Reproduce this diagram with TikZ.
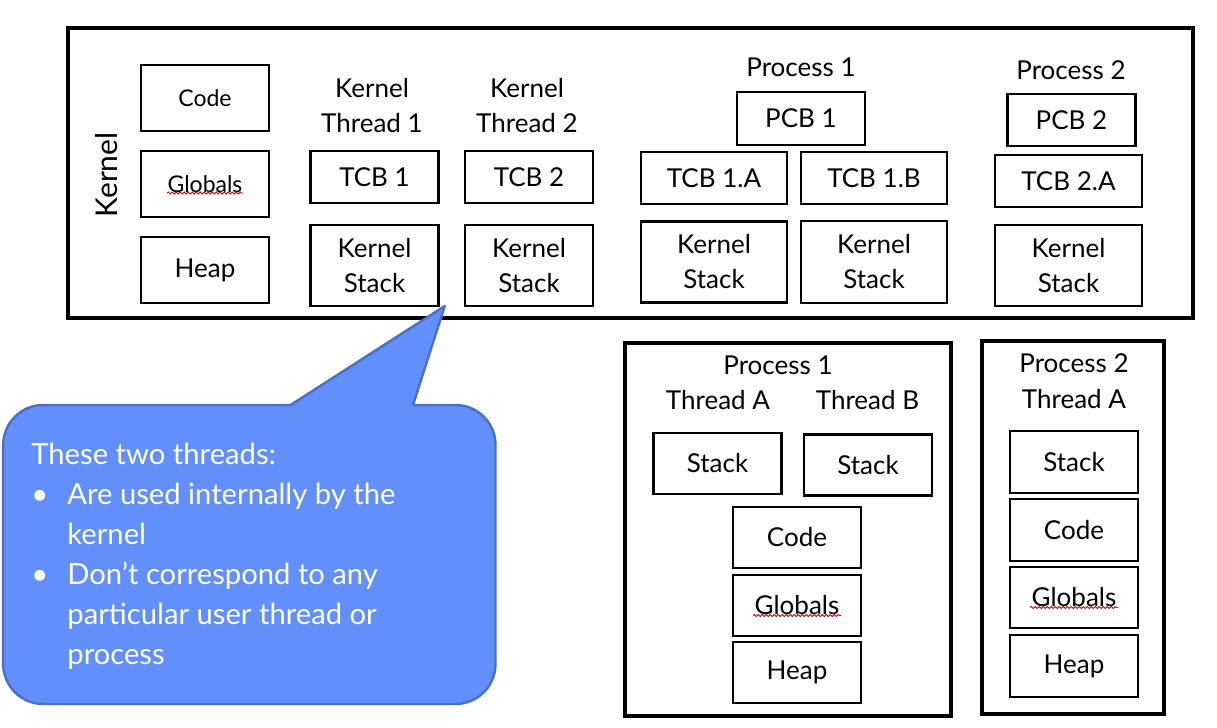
\documentclass[tikz,border=0pt]{standalone}
\usepackage{fontspec}
\setmainfont{Lato}
\usetikzlibrary{decorations.pathmorphing}
\definecolor{calloutfill}{RGB}{98,143,249}
\definecolor{calloutline}{RGB}{72,112,196}

\begin{document}
\begin{tikzpicture}[x=0.5pt,y=0.5pt]
        \useasboundingbox (0,0) rectangle (1217,728);
        \tikzset{squiggle/.style={draw=red!80!black,line width=0.4pt,decorate,
            decoration={snake,amplitude=0.5pt,segment length=2pt}}}
        % frames
        \begin{scope}[every node/.style={draw=black,line width=2pt,inner sep=0pt}]
            \node (kernel) [minimum width=562.6pt,minimum height=145.1pt] at (630.4,554.6) {};
            \node (proc1) [minimum width=163.2pt,minimum height=186.7pt] at (787.8,198.7) {};
            \node (proc2) [minimum width=91pt,minimum height=186.7pt] at (1072.8,200.7) {};
        \end{scope}
        % boxes
        \begin{scope}[every node/.style={draw=black,line width=1.4pt,inner sep=0pt,align=center,
                font=\fontsize{13}{17.5}\selectfont,minimum width=64pt}]
            \node (kcode) [minimum height=33pt,font=\fontsize{11.5}{14}\selectfont] at (205,630) {Code};
            \node (kglob) [minimum height=33pt,font=\fontsize{11.5}{14}\selectfont] at (205,544) {Globals};
            \node (kheap) [minimum height=33pt] at (205,458) {Heap};

            \node (tcb1) [minimum height=26pt] at (374.5,551) {TCB 1};
            \node (tcb2) [minimum height=26pt] at (529,551) {TCB 2};
            \node (kst1) [minimum height=40.5pt] at (374.5,462.5) {Kernel\\Stack};
            \node (kst2) [minimum height=40.5pt] at (529,462.5) {Kernel\\Stack};

            \node (pcb1) [minimum height=26.5pt] at (801,609.5) {PCB 1};
            \node (tcb1a) [minimum width=73pt,minimum height=26pt] at (714,550) {TCB 1.A};
            \node (tcb1b) [minimum width=73pt,minimum height=26pt] at (874,550) {TCB 1.B};
            \node (kst1a) [minimum width=73pt,minimum height=40.5pt] at (714,466) {Kernel\\Stack};
            \node (kst1b) [minimum width=73pt,minimum height=41pt] at (874,466) {Kernel\\Stack};

            \node (pcb2) [minimum height=26pt] at (1071.5,608) {PCB 2};
            \node (tcb2a) [minimum width=73.5pt,minimum height=26pt] at (1068.5,547) {TCB 2.A};
            \node (kst2a) [minimum width=73.5pt,minimum height=40.5pt] at (1068.5,462.5) {Kernel\\Stack};

            \node (ustka) [minimum height=30.5pt] at (717.5,264.5) {Stack};
            \node (ustkb) [minimum height=30.5pt] at (868,263) {Stack};
            \node (ucode) [minimum height=30.5pt] at (797,190.5) {Code};
            \node (uglob) [minimum height=30.5pt] at (797,122.5) {Globals};
            \node (uheap) [minimum height=30.5pt] at (797,55.5) {Heap};

            \node (vstk) [minimum height=31pt] at (1074,266) {Stack};
            \node (vcode) [minimum height=31pt] at (1074,198) {Code};
            \node (vglob) [minimum height=30.5pt] at (1074,130.5) {Globals};
            \node (vheap) [minimum height=31pt] at (1074,62) {Heap};
        \end{scope}
        % labels
        \begin{scope}[every node/.style={align=center,inner sep=0pt,font=\fontsize{13}{17.5}\selectfont}]
            \node (klabel) [rotate=90,font=\fontsize{15}{18}\selectfont] at (107,553) {Kernel};
            \node (kt1) at (372,622.5) {Kernel\\Thread 1};
            \node (kt2) at (527,622.5) {Kernel\\Thread 2};
            \node (p1label) at (801,661) {Process 1};
            \node (p2label) at (1071,658) {Process 2};
            \node (u1label) at (778,363) {Process 1};
            \node (u1a) at (718,328) {Thread A};
            \node (u1b) at (867.5,328) {Thread B};
            \node (u2label) at (1074,365) {Process 2};
            \node (u2a) at (1074,329) {Thread A};
        \end{scope}
        % spelling marks
        \draw[squiggle] ([xshift=-19pt,yshift=-4.5pt]kglob.center) -- ([xshift=19pt,yshift=-4.5pt]kglob.center);
        \draw[squiggle] ([xshift=-22pt,yshift=-5pt]uglob.center) -- ([xshift=22pt,yshift=-5pt]uglob.center);
        \draw[squiggle] ([xshift=-22pt,yshift=-5pt]vglob.center) -- ([xshift=22pt,yshift=-5pt]vglob.center);
        % callout
        \draw[fill=calloutfill,draw=calloutline,line width=1.2pt,line join=round]
            (444.8,422) -- (413,323) -- (455.5,323) arc (90:0:40) -- (495.5,64)
            arc (0:-90:40) -- (43.2,24) arc (270:180:40) -- (3.2,283)
            arc (180:90:40) -- (290.6,323) -- cycle;
        \node (note) [anchor=north west,inner sep=0pt,align=left,text=white,
            font=\fontsize{14.6}{20}\selectfont] at (31,285)
            {These two threads:\\
             \makebox[18pt][l]{\textbullet}Are used internally by the\\
             \hspace*{18pt}kernel\\
             \makebox[18pt][l]{\textbullet}Don't correspond to any\\
             \hspace*{18pt}particular user thread or\\
             \hspace*{18pt}process};
    \end{tikzpicture}
\end{document}
